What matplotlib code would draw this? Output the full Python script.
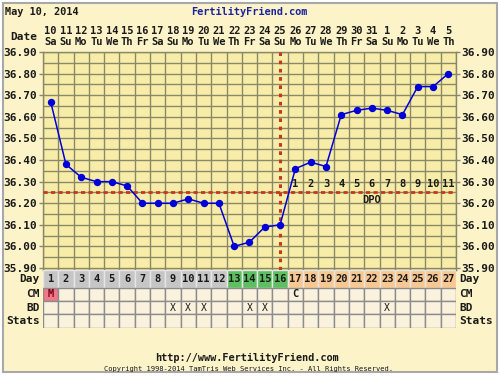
import matplotlib
matplotlib.use('Agg')
import matplotlib.pyplot as plt
from matplotlib.patches import Rectangle
import matplotlib.transforms as mtrans

# ---------------- data ----------------
days = list(range(1, 28))
temps = [36.67, 36.38, 36.32, 36.30, 36.30, 36.28, 36.20, 36.20, 36.20, 36.22,
         36.20, 36.20, 36.00, 36.02, 36.09, 36.10, 36.36, 36.39, 36.37, 36.61,
         36.63, 36.64, 36.63, 36.61, 36.74, 36.74, 36.80]
dates = ['10', '11', '12', '13', '14', '15', '16', '17', '18', '19', '20', '21',
         '22', '23', '24', '25', '26', '27', '28', '29', '30', '31', '1', '2',
         '3', '4', '5']
weekdays = ['Sa', 'Su', 'Mo', 'Tu', 'We', 'Th', 'Fr', 'Sa', 'Su', 'Mo', 'Tu',
            'We', 'Th', 'Fr', 'Sa', 'Su', 'Mo', 'Tu', 'We', 'Th', 'Fr', 'Sa',
            'Su', 'Mo', 'Tu', 'We', 'Th']
coverline = 36.25
ovulation_day = 16
fertile_days = [13, 14, 15, 16]
cm_days = [1, 17]
cm_codes = ['M', 'C']
bd_days = [9, 10, 11, 14, 15, 23]
dpo_days = list(range(17, 28))
dpo_labels = [str(i) for i in range(1, 12)]
temp_ticks = [35.90, 36.00, 36.10, 36.20, 36.30, 36.40, 36.50, 36.60, 36.70, 36.80, 36.90]
row_names = ['Day', 'CM', 'BD', 'Stats']

# ---------------- style ----------------
FONT = 'DejaVu Sans Mono'
BG = '#fcf4c8'
PLOT_BG = '#f8eda8'
GRID = '#8a8866'
RED = '#c83818'
BLUE = '#0000d8'
TXT = '#1a1a1a'

fig = plt.figure(figsize=(5, 3.8), dpi=100, facecolor='white')
fig.patches.append(Rectangle((3 / 500, 8 / 380), 494 / 500, 369 / 380,
                             transform=fig.transFigure, facecolor=BG,
                             edgecolor='#a8a8a8', lw=1.5, zorder=-10))

W, H = 500.0, 380.0
def fx(px):
    return px / W
def fy(py):
    return 1 - py / H

left_px, right_px = 43, 456
top_px, bot_px = 52, 270.2
ax = fig.add_axes([fx(left_px), fy(bot_px), fx(right_px - left_px), (bot_px - top_px) / H])
ax.set_facecolor(PLOT_BG)
ax.set_xlim(0.5, 27.5)
ax.set_ylim(35.89, 36.90)

# grid
for x in range(0, 28):
    ax.axvline(x + 0.5, color=GRID, lw=1, zorder=1)
for i in range(0, 21):
    ax.axhline(35.90 + i * 0.05, color=GRID, lw=1, zorder=1)
for s in ax.spines.values():
    s.set_color(GRID)
    s.set_linewidth(1)

ax.set_xticks([])
ax.set_yticks(temp_ticks)
ax.set_yticklabels(['%.2f' % t for t in temp_ticks])
ax.tick_params(axis='y', which='both', left=True, right=True, labelleft=True,
               labelright=True, length=3, width=1, color=GRID, pad=1,
               labelsize=8, labelcolor=TXT)
for lab in ax.get_yticklabels():
    lab.set_fontfamily(FONT)
    lab.set_fontweight('bold')

# coverline and ovulation line
ax.axhline(coverline, color=RED, lw=2, ls=(0, (1.5, 1.2)), zorder=3)
ax.axvline(ovulation_day, color=RED, lw=2.2, ls=(0, (1.2, 1.5)), zorder=3)

# temperatures
ax.plot(days, temps, color=BLUE, lw=1.1, marker='o', ms=4.3, mfc=BLUE, mec=BLUE, zorder=5)

# DPO labels
for d, l in zip(dpo_days, dpo_labels):
    ax.text(d, coverline + 0.015, l, ha='center', va='bottom', fontsize=7.5,
            fontfamily=FONT, fontweight='bold', color=TXT, zorder=4)
ax.text(22, coverline - 0.012, 'DPO', ha='center', va='top', fontsize=7.5,
        fontfamily=FONT, fontweight='bold', color=TXT, zorder=4)

# date labels above
blend = mtrans.blended_transform_factory(ax.transData, fig.transFigure)
for d, dt, wd in zip(days, dates, weekdays):
    fig.text(d, fy(31.5), dt, transform=blend, ha='center', va='center',
             fontsize=7.5, fontfamily=FONT, fontweight='bold', color=TXT)
    fig.text(d, fy(42), wd, transform=blend, ha='center', va='center',
             fontsize=7.5, fontfamily=FONT, fontweight='bold', color=TXT)
fig.text(fx(37), fy(37), 'Date', ha='right', va='center', fontsize=8,
         fontfamily=FONT, fontweight='bold', color=TXT)

# ---------------- table rows ----------------
tab_top, tab_bot = bot_px, 327.5
tax = fig.add_axes([fx(left_px), fy(tab_bot), fx(right_px - left_px), (tab_bot - tab_top) / H])
tax.set_xlim(0.5, 27.5)
bounds = [0, 17.5, 31, 44, 57.3]
tax.set_ylim(bounds[-1], bounds[0])
tax.axis('off')

day_colors = []
for d in days:
    if d in fertile_days:
        day_colors.append('#5cc060')
    elif d > ovulation_day:
        day_colors.append('#f8c890')
    else:
        day_colors.append('#c6c6c6')
tax.bar(days, bounds[1] - bounds[0], bottom=bounds[0], width=1, color=day_colors,
        edgecolor='#e6e6e6', lw=1, align='center')
for d in days:
    tax.text(d, (bounds[0] + bounds[1]) / 2, str(d), ha='center', va='center',
             fontsize=7.5, fontfamily=FONT, fontweight='bold', color=TXT)

cell_bg = '#faf2dc'
for r in range(1, 4):
    cols = [cell_bg] * len(days)
    if r == 1:
        for d, c in zip(cm_days, cm_codes):
            if c == 'M':
                cols[d - 1] = '#f07888'
    tax.bar(days, bounds[r + 1] - bounds[r], bottom=bounds[r], width=1, color=cols,
            edgecolor='#8c8c8c', lw=1, align='center')

for d, c in zip(cm_days, cm_codes):
    tax.text(d, (bounds[1] + bounds[2]) / 2, c, ha='center', va='center',
             fontsize=7.5, fontfamily=FONT, fontweight='bold',
             color='#7a0010' if c == 'M' else TXT)
for d in bd_days:
    tax.text(d, (bounds[2] + bounds[3]) / 2, 'X', ha='center', va='center',
             fontsize=7, fontfamily=FONT, color=TXT)

for i, name in enumerate(row_names):
    yc = (bounds[i] + bounds[i + 1]) / 2
    ypx = tab_top + yc
    fig.text(fx(40), fy(ypx), name, ha='right', va='center', fontsize=8,
             fontfamily=FONT, fontweight='bold', color=TXT)
    fig.text(fx(459), fy(ypx), name, ha='left', va='center', fontsize=8,
             fontfamily=FONT, fontweight='bold', color=TXT)

# ---------------- header / footer ----------------
fig.text(fx(5), fy(12), 'May 10, 2014', ha='left', va='center', fontsize=7.4,
         fontfamily=FONT, fontweight='bold', color=TXT)
fig.text(fx(249), fy(12), 'FertilityFriend.com', ha='center', va='center', fontsize=7.4,
         fontfamily=FONT, fontweight='bold', color='#1a22a0')
fig.text(fx(247), fy(357.5), 'http://www.FertilityFriend.com', ha='center', va='center',
         fontsize=7.4, fontfamily=FONT, fontweight='bold', color=TXT)
fig.text(fx(249), fy(369), 'Copyright 1998-2014 TamTris Web Services Inc. - All Rights Reserved.',
         ha='center', va='center', fontsize=5.1, fontfamily=FONT, color=TXT)

fig.savefig('out.png', dpi=100, facecolor=fig.get_facecolor())
